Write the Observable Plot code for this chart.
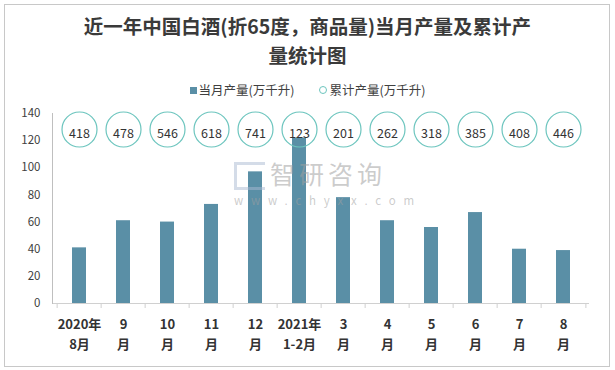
<!DOCTYPE html>
<html>
<head>
<meta charset="utf-8">
<script src="https://cdn.jsdelivr.net/npm/d3@7"></script>
<script src="https://cdn.jsdelivr.net/npm/@observablehq/plot@0.6"></script>
<style>
  body { margin: 0; background: #fff; font-family: "Noto Sans CJK SC", sans-serif; }
  #wrap { position: relative; width: 615px; height: 370px; overflow: hidden; }
  #frame { position: absolute; left: 4px; top: 4px; width: 604px; height: 361px; border: 1px solid #c8c8c8; pointer-events: none; }
  #title { position: absolute; left: 0; top: 12px; width: 615px; text-align: center; font-size: 19.5px; font-weight: bold; line-height: 28.5px; color: #3a3a3a; }
  #title div { height: 28.5px; }
  #legend { position: absolute; left: 0; top: 80px; width: 615px; text-align: center; font-size: 12.5px; color: #404040; }
  #legend span.item { margin: 0 12px; }
  #legend .sq { display: inline-block; width: 7px; height: 7px; background: #5a8fa6; margin-right: 2px; vertical-align: 1px; }
  #legend .ci { display: inline-block; width: 6px; height: 6px; border: 1px solid #6cc5be; border-radius: 50%; margin-right: 3px; vertical-align: 1px; }
  #chart { position: absolute; left: 0; top: 100px; }
  #wm { position: absolute; left: 232px; top: 161px; color: rgba(160,160,160,0.55); pointer-events: none; text-align: left; }
  #wm .big { font-size: 25px; letter-spacing: 4px; line-height: 24px; height: 24px; padding-left: 38px; }
  #wm .small { font-size: 11.5px; letter-spacing: 7.8px; line-height: 12px; height: 12px; padding-left: 2px; margin-top: 9px; }
  #wm .logo { position: absolute; left: 2px; top: 1px; width: 28px; height: 22px; border: 3px solid rgba(170,185,210,0.5); border-right: none; }
</style>
</head>
<body>
<div id="wrap">
  <div id="title"><div>近一年中国白酒(折65度，商品量)当月产量及累计产</div><div>量统计图</div></div>
  <div id="legend"><span class="item"><span class="sq"></span>当月产量(万千升)</span><span class="item"><span class="ci"></span>累计产量(万千升)</span></div>
  <div id="chart"></div>
  <div id="wm"><div class="logo"></div><div class="big">智研咨询</div><div class="small">www.chyxx.com</div></div>
  <div id="frame"></div>
</div>
<script>
const categories = ["2020年\n8月", "9\n月", "10\n月", "11\n月", "12\n月", "2021年\n1-2月", "3\n月", "4\n月", "5\n月", "6\n月", "7\n月", "8\n月"];
const monthly = [41, 61, 60, 73, 97, 122, 78, 61, 56, 67, 40, 39];
const cumulative = [418, 478, 546, 618, 741, 123, 201, 262, 318, 385, 408, 446];
const yTicks = [0, 20, 40, 60, 80, 100, 120, 140];

const data = categories.map((c, i) => ({cat: c, m: monthly[i], c: cumulative[i]}));
const W = 615, H = 270, mL = 52, mR = 26;
const band = (W - mL - mR) / categories.length;

const chart = Plot.plot({
  width: W,
  height: H,
  marginTop: 13,
  marginBottom: 67,
  marginLeft: mL,
  marginRight: mR,
  style: {fontFamily: "'Noto Sans CJK SC', sans-serif", background: "transparent", overflow: "visible"},
  x: {domain: categories, paddingInner: 0.69, paddingOuter: 0.345, align: 0.5, label: null},
  y: {domain: [0, 140], label: null},
  marks: [
    Plot.barY(data, {x: "cat", y: "m", fill: "#5a8fa6"}),
    Plot.ruleY([0], {stroke: "#d0d0d0"}),
    Plot.frame({anchor: "left", stroke: "#bfbfbf"}),
    Plot.ruleX(data, {x: "cat", dx: -band / 2, y1: 0, y2: 0, insetBottom: -5, stroke: "#d0d0d0"}),
    Plot.ruleX(data.slice(-1), {x: "cat", dx: band / 2, y1: 0, y2: 0, insetBottom: -5, stroke: "#d0d0d0"}),
    Plot.axisY({ticks: yTicks, tickSize: 0, tickPadding: 12, fontSize: 11.5, fill: "#404040", label: null}),
    Plot.axisX({tickSize: 0, tickPadding: 12, fontSize: 13, fontWeight: "bold", fill: "#333", lineHeight: 1.5, textAnchor: "middle", label: null}),
    Plot.dot(data, {x: "cat", frameAnchor: "top", dy: 16, r: 17.5, stroke: "#6cc5be", strokeWidth: 1.2, fill: "none"}),
    Plot.text(data, {x: "cat", frameAnchor: "top", dy: 16, text: "c", fontSize: 12.5, fill: "#333"})
  ]
});
document.getElementById("chart").appendChild(chart);
</script>
</body>
</html>
